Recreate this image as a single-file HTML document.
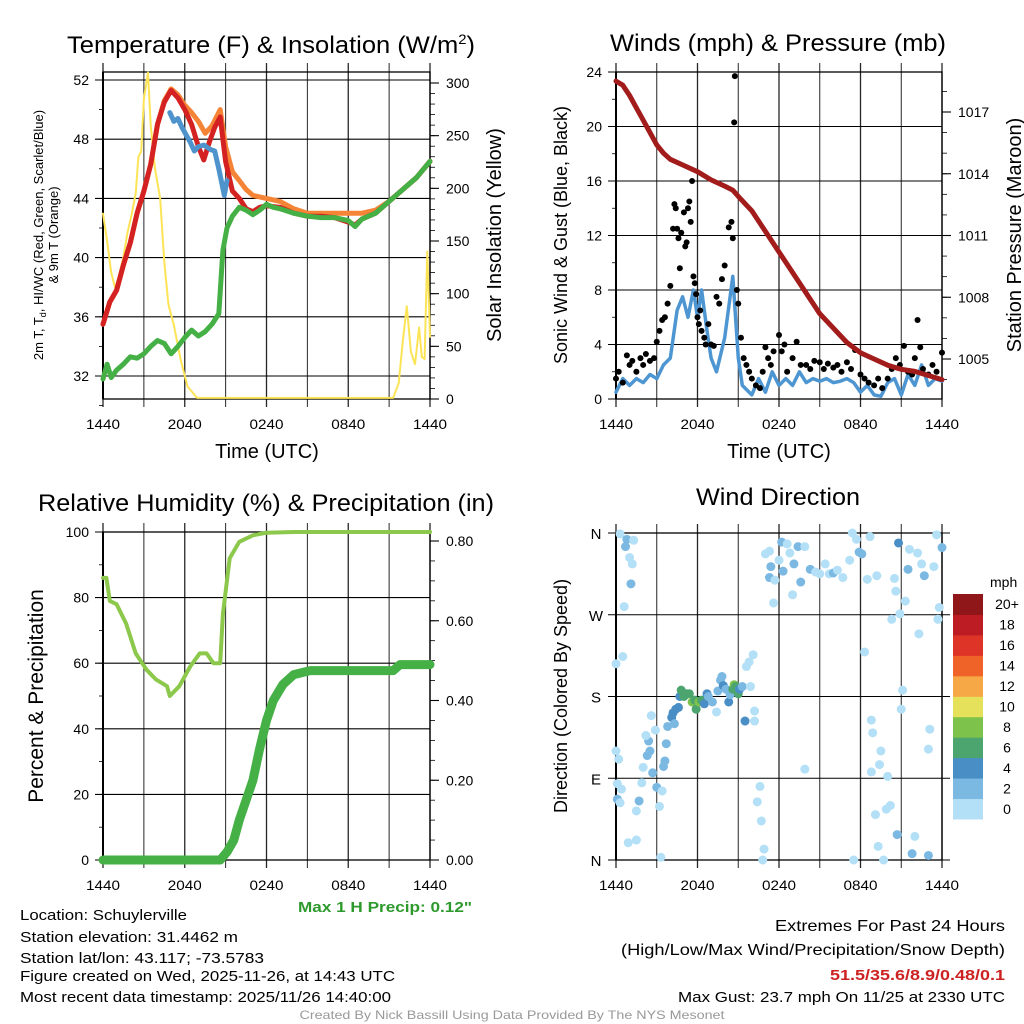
<!DOCTYPE html>
<html><head><meta charset="utf-8"><style>
body{margin:0;background:#fff}
svg{display:block;font-family:"Liberation Sans",sans-serif}
</style></head><body>
<svg id="s" width="1024" height="1024" viewBox="0 0 1024 1024" xmlns="http://www.w3.org/2000/svg">
<rect width="1024" height="1024" fill="#fff"/>
<g id="g"></g>
<text x="271" y="53" font-size="24" text-anchor="middle" textLength="408" lengthAdjust="spacingAndGlyphs">Temperature (F) &amp; Insolation (W/m<tspan dy="-9" font-size="14">2</tspan><tspan dy="9">)</tspan></text>
<text x="778" y="51" font-size="24" text-anchor="middle" textLength="336" lengthAdjust="spacingAndGlyphs">Winds (mph) &amp; Pressure (mb)</text>
<text x="266" y="511" font-size="24" text-anchor="middle" textLength="456" lengthAdjust="spacingAndGlyphs">Relative Humidity (%) &amp; Precipitation (in)</text>
<text x="778" y="505" font-size="24" text-anchor="middle" textLength="164" lengthAdjust="spacingAndGlyphs">Wind Direction</text>
<text x="267" y="458" font-size="20" text-anchor="middle">Time (UTC)</text>
<text x="779" y="458" font-size="20" text-anchor="middle">Time (UTC)</text>
<text transform="translate(43,235) rotate(-90)" font-size="13" text-anchor="middle">2m T, T<tspan font-size="9" dy="3">d</tspan><tspan dy="-3">, HI/WC (Red, Green, Scarlet/Blue)</tspan></text>
<text transform="translate(58,235) rotate(-90)" font-size="13" text-anchor="middle">&amp; 9m T (Orange)</text>
<text transform="translate(501,235) rotate(-90)" font-size="20" text-anchor="middle">Solar Insolation (Yellow)</text>
<text transform="translate(567,235) rotate(-90)" font-size="18" text-anchor="middle">Sonic Wind &amp; Gust (Blue, Black)</text>
<text transform="translate(1021,235) rotate(-90)" font-size="20" text-anchor="middle">Station Pressure (Maroon)</text>
<text transform="translate(43,696) rotate(-90)" font-size="21" text-anchor="middle">Percent &amp; Precipitation</text>
<text transform="translate(567,696) rotate(-90)" font-size="18" text-anchor="middle">Direction (Colored By Speed)</text>
<text x="385" y="912" font-size="15" font-weight="bold" fill="#2e9a2e" text-anchor="middle" textLength="174" lengthAdjust="spacingAndGlyphs">Max 1 H Precip: 0.12"</text>
<g font-size="15">
<text x="20" y="920" textLength="167" lengthAdjust="spacingAndGlyphs">Location: Schuylerville</text>
<text x="20" y="942" textLength="218" lengthAdjust="spacingAndGlyphs">Station elevation: 31.4462 m</text>
<text x="20" y="963" textLength="244" lengthAdjust="spacingAndGlyphs">Station lat/lon: 43.117; -73.5783</text>
<text x="20" y="981" textLength="375" lengthAdjust="spacingAndGlyphs">Figure created on Wed, 2025-11-26, at 14:43 UTC</text>
<text x="20" y="1002" textLength="371" lengthAdjust="spacingAndGlyphs">Most recent data timestamp: 2025/11/26 14:40:00</text>
<text x="1005" y="931" text-anchor="end" font-size="16" textLength="230" lengthAdjust="spacingAndGlyphs">Extremes For Past 24 Hours</text>
<text x="1005" y="955" text-anchor="end" font-size="16" textLength="384" lengthAdjust="spacingAndGlyphs">(High/Low/Max Wind/Precipitation/Snow Depth)</text>
<text x="1005" y="980" text-anchor="end" font-weight="bold" fill="#cc2222" textLength="175" lengthAdjust="spacingAndGlyphs">51.5/35.6/8.9/0.48/0.1</text>
<text x="1005" y="1002" text-anchor="end" textLength="327" lengthAdjust="spacingAndGlyphs">Max Gust: 23.7 mph On 11/25 at 2330 UTC</text>
<text x="512" y="1019" text-anchor="middle" font-size="12" fill="#999" textLength="425" lengthAdjust="spacingAndGlyphs">Created By Nick Bassill Using Data Provided By The NYS Mesonet</text>
</g>
</svg>
<script>
// ---- data ----
const xTickLabels = ["1440","2040","0240","0840","1440"];
const tempT = [[0,35.5],[0.5,37],[1,37.8],[1.5,39.5],[2,41],[2.5,43],[3,44.5],[3.5,46.3],[4,49],[4.5,50.5],[5,51.3],[5.5,50.8],[6,50],[6.5,49],[7,47.5],[7.4,46.6],[7.8,47.8],[8.2,48.8],[8.6,49.5],[9,46.5],[9.5,44.5],[10,44],[10.5,43.3],[11,43.1],[11.5,43.4],[12,43.5],[13,43.4],[14,43],[15,42.8],[16,42.8],[17,42.7],[18,42.4],[18.5,42.2],[19,42.6],[20,43],[21,43.8],[22,44.6],[23,45.4],[24,46.5]];
const temp9m = [[0,35.5],[0.5,37],[1,37.8],[1.5,39.5],[2,41],[2.5,43],[3,44.5],[3.5,46.3],[4,49],[4.5,50.6],[5,51.4],[5.5,51],[6,50.3],[6.5,49.8],[7,49.2],[7.5,48.4],[8,48.9],[8.6,50],[9,47.5],[9.5,45.8],[10,45.2],[10.5,44.6],[11,44.2],[12,44],[13,43.8],[14,43.3],[15,43],[16,43],[17,43],[18,43],[19,43],[20,43.2],[21,43.8],[22,44.6],[23,45.4],[24,46.5]];
const tempHI = [[4.9,49.8],[5.2,49.2],[5.5,49.4],[5.8,48.8],[6.1,48.3],[6.4,47.8],[6.7,47.2],[7,47.5],[7.4,47.6],[7.9,47.3],[8.2,47.2],[8.5,46],[8.9,44.2],[9.1,45.2]];
const tempTd = [[0,31.8],[0.3,32.8],[0.6,31.9],[1,32.4],[1.5,32.8],[2,33.3],[2.5,33.2],[3,33.5],[3.5,34],[4,34.4],[4.5,34.2],[5,33.5],[5.5,34],[6,34.6],[6.5,35.1],[7,34.7],[7.5,35],[8,35.5],[8.5,36.2],[8.8,40.5],[9.1,42],[9.5,42.8],[10,43.4],[10.5,43.2],[11,42.9],[11.5,43.2],[12,43.6],[12.5,43.4],[13,43.3],[14,43],[15,42.8],[16,42.7],[17,42.7],[18,42.5],[18.5,42.1],[19,42.6],[20,43],[21,43.8],[22,44.6],[23,45.4],[24,46.5]];
const solar = [[0,176],[0.3,150],[0.6,120],[0.9,105],[1.2,118],[1.5,135],[1.8,158],[2.1,175],[2.4,195],[2.6,230],[2.8,235],[3,285],[3.3,310],[3.5,260],[3.8,220],[4.2,190],[4.5,130],[4.8,90],[5.2,70],[5.7,37],[6.2,12],[6.9,1],[21.3,1],[21.7,15],[22,55],[22.3,88],[22.6,45],[22.9,33],[23.2,68],[23.4,40],[23.6,38],[23.8,140],[24,59]];
const wind = [[0,0.5],[0.5,1.5],[1,1],[1.5,1.5],[2,1.2],[2.5,1.8],[3,1.5],[3.5,2.5],[4,3],[4.5,6.5],[4.9,7.5],[5.3,6],[5.7,8],[6,6],[6.3,8],[6.7,5],[7,3],[7.4,2],[8,4.5],[8.6,9],[9,3],[9.3,1],[10,0.3],[10.5,1.5],[11,0.5],[11.5,2],[12,1],[12.5,1.5],[13,1],[13.5,2],[14,1.2],[14.5,1.5],[15,1.3],[15.5,1.5],[16,1.2],[16.5,1.3],[17,1.5],[17.5,1.2],[18,0.5],[18.5,1],[19,0.3],[19.5,0.2],[20,1.2],[20.5,1.5],[21,0.3],[21.5,1.8],[22,1],[22.5,2.5],[23,1],[23.5,1.5],[24,1.3]];
const gustHours = [0,0.2,0.5,0.8,1,1.2,1.5,1.8,2,2.2,2.5,2.8,3,3.2,3.4,3.6,3.8,4,4.2,4.3,4.4,4.5,4.6,4.7,4.8,5,5.1,5.2,5.3,5.4,5.5,5.6,5.7,5.8,5.9,6,6.1,6.2,6.3,6.5,6.6,6.8,7,7.2,7.4,7.6,7.8,8,8.3,8.5,8.6,8.7,8.75,8.9,9,9.2,9.4,9.6,9.8,10,10.3,10.6,10.8,11,11.2,11.4,11.6,12,12.2,12.4,12.6,13,13.3,13.6,14,14.3,14.6,15,15.3,15.6,16,16.3,16.6,17,17.3,17.6,18,18.3,18.6,19,19.3,19.6,20,20.3,20.6,20.9,21.2,21.5,21.8,22,22.2,22.4,22.6,23,23.3,23.6,24];
const gustValues = [1.5,2,1.2,3.2,2.5,2.8,2,3,2.5,3.3,2.8,3,4.2,5,5.8,6,7,8.3,12.5,14.3,14,12.5,11.8,9.6,12.2,13.7,11.2,11.5,14,14.5,13,16,9,8.5,7.7,6,5.5,6.5,5,4.5,4,5.5,4,3.9,7.5,7,8.8,9.8,12.6,13,11.8,20.3,23.7,8,7,4.5,3,2.5,2,1.5,1,0.8,2,3.8,3,2.5,3.5,4.7,3.5,4,2,3,4.2,2.5,2.5,2.2,2.8,2.7,2.2,2.6,2.3,2.5,2,2.7,2.2,3.6,1.8,1.5,1.2,1,1.5,0.8,1.5,2.2,3,2.5,3.9,2,1.8,3,5.8,3.8,2.2,1.8,2.5,2,3.4];
const pressure = [[0,1018.5],[0.5,1018.3],[1,1017.8],[1.5,1017.2],[2,1016.6],[2.5,1016],[3,1015.4],[3.5,1015],[4,1014.7],[5,1014.4],[6,1014.1],[7,1013.7],[8,1013.4],[8.6,1013.2],[9,1012.9],[10,1012.2],[11,1011.2],[12,1010.2],[13,1009.2],[14,1008.2],[15,1007.2],[16,1006.5],[17,1005.8],[18,1005.3],[19,1005],[20,1004.7],[21,1004.5],[22,1004.4],[23,1004.2],[24,1004]];
const rh = [[0,86],[0.25,86],[0.5,79],[1,78],[1.7,72],[2.4,63],[3.2,58],[3.9,55],[4.7,53],[4.9,50],[5.6,53],[6.4,59],[7.1,63],[7.6,63],[8.1,60],[8.6,60],[8.8,75],[9.3,92],[10,97],[11,99],[12,99.8],[14,100],[24,100]];
const precip = [[0,0],[8.6,0],[9.1,0.02],[9.6,0.05],[10,0.1],[10.5,0.15],[11,0.2],[11.5,0.28],[12,0.35],[12.5,0.4],[13.2,0.44],[14,0.465],[15.2,0.475],[21.3,0.475],[21.8,0.49],[24,0.49]];
const dirHours = [0.3,0.8,0.7,1.3,1.0,1.2,1.1,0.6,0.5,0.0,0.0,0.2,0.1,0.4,0.1,0.3,0.9,1.5,1.5,1.7,1.9,2.0,2.3,2.5,2.4,2.2,2.7,2.9,2.6,3.0,3.2,3.4,3.3,3.5,3.6,3.7,3.8,4.1,4.2,4.3,4.4,4.6,4.7,4.8,5.0,5.2,5.4,5.6,5.8,5.9,6.1,6.3,6.5,6.7,6.8,7.1,7.4,7.5,7.7,7.8,7.9,8.1,8.3,8.4,8.6,8.7,8.8,9.0,9.1,9.3,9.5,9.9,10.2,10.2,9.6,9.8,10.1,10.4,10.6,10.7,10.9,10.8,11.0,11.3,11.3,11.4,11.6,11.7,12.0,12.2,12.3,12.6,12.8,13.1,13.0,13.4,13.6,13.9,13.9,14.3,14.7,15.0,15.4,15.7,16.0,16.3,16.7,17.2,17.4,17.5,17.7,17.9,18.1,18.3,18.5,18.7,18.8,18.8,18.9,19.1,19.2,19.3,19.4,19.5,19.7,19.9,20.0,20.2,20.3,20.5,20.6,20.7,20.8,20.9,21.0,21.1,21.3,21.5,21.6,21.8,22.0,22.2,22.3,22.5,22.7,23.0,23.0,23.1,23.4,23.6,23.7,23.8,24.0];
const dirDegrees = [359,353,345,352,333,326,304,279,224,216,120,111,84,78,67,63,19,22,54,65,85,102,115,120,131,137,96,143,159,80,59,76,3,103,109,128,147,157,162,150,166,168,180,187,180,183,183,174,176,166,174,176,172,183,180,174,163,186,198,202,192,188,174,182,188,193,191,183,188,191,153,191,164,153,213,218,226,64,81,43,12,0,337,340,311,323,283,308,330,350,318,348,338,326,292,345,306,345,100,320,317,315,326,315,316,319,311,330,360,0,353,339,337,229,309,356,97,154,140,50,313,15,105,120,0,56,92,60,265,310,296,28,349,271,166,187,285,320,342,7,26,338,249,326,313,5,122,144,323,358,265,278,344];
const dirSpeeds = [1,3,3,1,1,1,3,1,1,1,1,1,1,1,3,1,1,1,1,3,1,1,3,3,3,1,3,1,1,3,1,1,1,3,3,3,3,5,5,3,5,5,5,7,7,7,7,9,7,7,9,7,5,5,3,3,1,3,3,3,5,3,5,3,7,9,7,7,5,3,5,1,1,1,1,1,1,1,1,1,1,1,1,1,3,3,1,1,1,3,3,1,1,3,1,3,3,1,1,3,1,1,1,1,3,1,1,1,1,1,1,3,3,1,1,1,1,1,1,1,1,1,1,1,1,1,1,1,1,1,1,3,5,1,1,1,1,3,1,3,1,1,1,1,3,3,1,1,1,1,1,1,3,1];
const speedBins = ["0","2","4","6","8","10","12","14","16","18","20+"];
const speedColors = ["#b3e0f6","#7cb9e2","#4a8ec6","#4ca46e","#7cc24b","#e6e15a","#f5a845","#ef6329","#de3427","#bd1c25","#8f1619"];

// ---- helpers ----
const NS="http://www.w3.org/2000/svg";
const G=document.getElementById('g');
function mk(tag,attrs,parent){const e=document.createElementNS(NS,tag);for(const k in attrs)e.setAttribute(k,attrs[k]);(parent||G).appendChild(e);return e;}
function scale(d0,d1,r0,r1){return v=>r0+(v-d0)*(r1-r0)/(d1-d0);}
function pathOf(pts,sx,sy){return pts.map((p,i)=>(i?'L':'M')+sx(p[0]).toFixed(1)+','+sy(p[1]).toFixed(1)).join('');}

function frame(P,name){
  const g=mk('g',{});
  
  
  for(let h=0;h<=24;h+=3){
    const x=P.sx(h);
    const l=mk('line',{x1:x,y1:P.top-9,x2:x,y2:P.bot+8,stroke:'#000','stroke-width':h%6==0?1.3:1,'stroke-opacity':0.85},g);
    
    
  }
  xTickLabels.forEach((lab,i)=>{
    const t=mk('text',{x:P.sx(i*6),y:P.bot+30,'font-size':14,'text-anchor':'middle',textLength:34,lengthAdjust:'spacingAndGlyphs'},g);
    t.textContent=lab;
    
    
  });
  mk('rect',{x:P.x0,y:P.top,width:P.x1-P.x0,height:P.bot-P.top,fill:'none',stroke:'#000','stroke-width':1.3},g);
  mk('line',{x1:P.x0,y1:P.top,x2:P.x0,y2:P.bot,stroke:'#000','stroke-width':2},g);
  return g;
}
function leftAxis(P,ticks,fmt,minor,name){
  ticks.forEach(v=>{
    const y=P.sy(v);
    mk('line',{x1:P.x0-8,y1:y,x2:P.x1,y2:y,stroke:'#000','stroke-width':1.1});
    const t=mk('text',{x:P.x0-14,y:y+5,'font-size':14,'text-anchor':'end'});
    t.textContent=fmt(v);
    
    
  });
  minor.forEach(v=>{const y=P.sy(v);mk('line',{x1:P.x0-4,y1:y,x2:P.x0,y2:y,stroke:'#000','stroke-width':0.8});});
}
function rightAxis(P,sy2,ticks,fmt,minor,name){
  ticks.forEach(v=>{
    const y=sy2(v);
    mk('line',{x1:P.x1,y1:y,x2:P.x1+9,y2:y,stroke:'#000','stroke-width':1.1});
    const t=mk('text',{x:P.x1+16,y:y+5,'font-size':14});
    t.textContent=fmt(v);
    
    
  });
  minor.forEach(v=>{const y=sy2(v);mk('line',{x1:P.x1,y1:y,x2:P.x1+5,y2:y,stroke:'#000','stroke-width':0.8});});
}
function series(pts,sx,sy,color,w,name){
  const p=mk('path',{d:pathOf(pts,sx,sy),fill:'none',stroke:color,'stroke-width':w,'stroke-linejoin':'round','stroke-linecap':'round'});
  
  
  return p;
}
function range(a,b,s){const r=[];for(let v=a;v<=b+1e-9;v+=s)r.push(+v.toFixed(4));return r;}

// ---- Temperature panel ----
const P1={x0:103,x1:430,top:72,bot:399};
P1.sx=scale(0,24,P1.x0,P1.x1); P1.sy=scale(32,52,376,80);
const sol=scale(0,300,399,83);
frame(P1,'temperature');
mk('line',{x1:P1.x0,y1:80,x2:P1.x1,y2:80,stroke:'#000','stroke-width':1.1});
leftAxis(P1,[32,36,40,44,48,52],v=>v,range(30,52,2),'temp');
rightAxis(P1,sol,[0,50,100,150,200,250,300],v=>v,range(0,300,10),'solar');
series(solar,P1.sx,sol,'#fde456',2,'solar-insolation-line');
series(temp9m,P1.sx,P1.sy,'#f58436',5,'temp-9m-line');
series(tempT,P1.sx,P1.sy,'#d42222',5,'temp-2m-line');
series(tempHI,P1.sx,P1.sy,'#4f93cc',5,'heat-index-line');
series(tempTd,P1.sx,P1.sy,'#45b045',5,'dewpoint-line');

// ---- Winds panel ----
const P2={x0:616,x1:942,top:72,bot:399};
P2.sx=scale(0,24,P2.x0,P2.x1); P2.sy=scale(0,24,399,72);
const pr=scale(1005,1017,359,112);
frame(P2,'winds');
leftAxis(P2,[0,4,8,12,16,20,24],v=>v,range(0,24,2),'wind');
rightAxis(P2,pr,[1005,1008,1011,1014,1017],v=>v,range(1004,1018,1),'pressure');
series(wind,P2.sx,P2.sy,'#4e96d2',3.5,'sonic-wind-line');
gustHours.forEach((h,i)=>{
  const c=mk('circle',{cx:P2.sx(h),cy:P2.sy(gustValues[i]),r:3,fill:'#000'});
  
  
});
series(pressure,P2.sx,pr,'#a31c1c',5,'pressure-line');

// ---- RH panel ----
const P3={x0:103,x1:430,top:532,bot:860};
P3.sx=scale(0,24,P3.x0,P3.x1); P3.sy=scale(0,100,860,532);
const pc=scale(0,0.8,860,541);
frame(P3,'rh');
leftAxis(P3,[0,20,40,60,80,100],v=>v,range(0,100,10),'rh');
rightAxis(P3,pc,[0,0.2,0.4,0.6,0.8],v=>v.toFixed(2),range(0,0.8,0.05),'precip');
series(rh,P3.sx,P3.sy,'#8cc84b',4,'relative-humidity-line');
series(precip,P3.sx,pc,'#45b045',9,'precipitation-line');

// ---- Wind direction panel ----
const P4={x0:616,x1:942,top:533,bot:860};
P4.sx=scale(0,24,P4.x0,P4.x1); P4.sy=scale(0,360,860,533);
frame(P4,'direction');
const dirLabels=["N","E","S","W","N"];
[0,90,180,270,360].forEach((v,i)=>{
  const y=P4.sy(v);
  mk('line',{x1:P4.x0-8,y1:y,x2:P4.x1+8,y2:y,stroke:'#000','stroke-width':1.1});
  const t=mk('text',{x:P4.x0-20,y:y+6,'font-size':15,'text-anchor':'middle'});
  t.textContent=dirLabels[i];
  
  
});
function speedColor(s){return speedColors[Math.min(10,Math.floor(s/2))];}
dirHours.forEach((h,i)=>{
  const c=mk('circle',{cx:P4.sx(h),cy:P4.sy(dirDegrees[i]),r:4.5,fill:speedColor(dirSpeeds[i])});
  
  
});
// colorbar
const cb=mk('g',{});


const cbTop=594,cbBot=819,cbH=(cbBot-cbTop)/speedBins.length;
const mt=mk('text',{x:990,y:587,'font-size':14},cb); mt.textContent='mph';
speedBins.forEach((lab,i)=>{
  const y=cbBot-(i+1)*cbH;
  mk('rect',{x:953,y:y,width:30,height:cbH+0.5,fill:speedColors[i]},cb);
  const t=mk('text',{x:1007,y:y+cbH/2+5,'font-size':14,'text-anchor':'middle'},cb);
  t.textContent=lab;
  
  
});
</script>
</body></html>
